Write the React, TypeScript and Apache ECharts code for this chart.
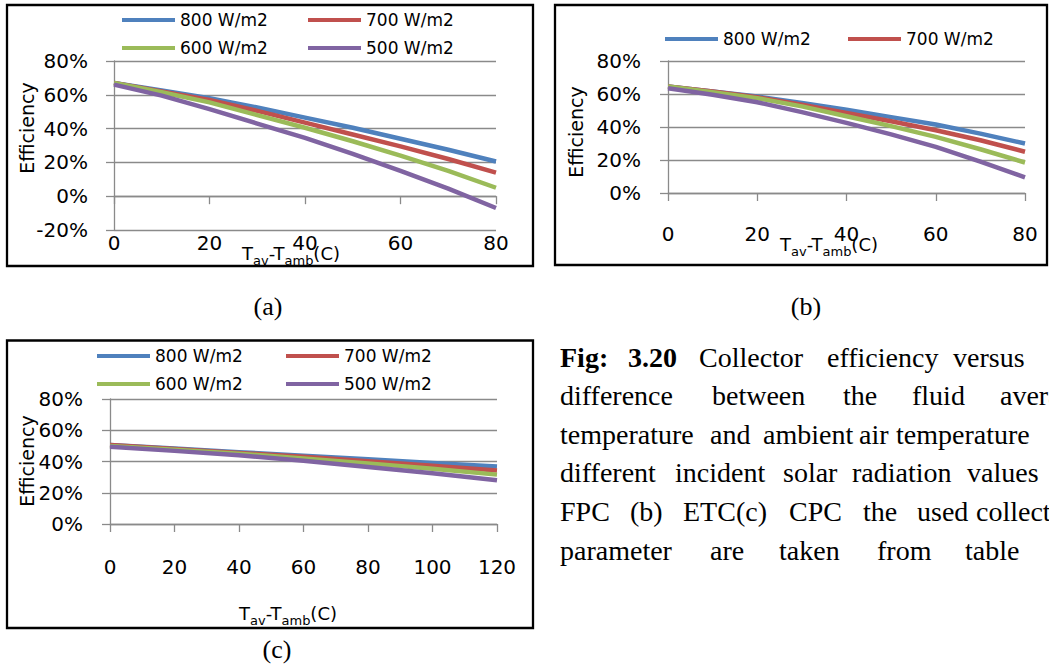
import React, { useEffect, useRef } from "react";
import * as echarts from "echarts";

// ---------- data ----------
const SERIES_NAMES = ["800 W/m2", "700 W/m2", "600 W/m2", "500 W/m2"];
const SERIES_COLORS = ["#4F81BD", "#C0504D", "#9BBB59", "#8064A2"];

// (a) FPC : efficiency (%) vs Tav-Tamb
const fpcDeltaT = [0, 10, 20, 30, 40, 50, 60, 70, 80];
const fpc800 = [67, 62.5, 58, 52.5, 46.5, 40.5, 34, 27.5, 20.5];
const fpc700 = [67, 62, 57, 50.5, 43.5, 36.5, 29.5, 22, 14];
const fpc600 = [67, 61.5, 55.5, 48, 40.5, 32.5, 24, 15, 5];
const fpc500 = [66, 59.5, 51.5, 43, 34.5, 25, 15, 4.5, -7];

// (b) ETC
const etcDeltaT = [0, 10, 20, 30, 40, 50, 60, 70, 80];
const etc800 = [64.5, 61.5, 58.5, 54.5, 50.5, 46, 41.5, 36, 30];
const etc700 = [64.5, 61.5, 58, 53.5, 48.5, 43.5, 38, 32, 25];
const etc600 = [64.5, 61, 57.5, 52.5, 46.5, 40.5, 34, 26.5, 18.5];
const etc500 = [63.5, 59.5, 55, 49, 42.5, 35.5, 28, 19, 9.5];

// (c) CPC
const cpcDeltaT = [0, 20, 40, 60, 80, 100, 120];
const cpc800 = [50.5, 48.3, 46, 43.7, 41.4, 39.1, 36.8];
const cpc700 = [50.5, 48, 45.5, 43, 40.2, 37.3, 34.3];
const cpc600 = [50, 47.5, 45, 42, 38.8, 35.3, 31.6];
const cpc500 = [49.5, 46.8, 44, 40.5, 36.5, 32.5, 28];

// axis ranges (percent / degrees)
const yRangeA = [-20, 80];
const yRangeB = [0, 80];
const yRangeC = [0, 80];
const xMaxA = 80;
const xMaxB = 80;
const xMaxC = 120;
const TICK_STEP = 20;

const Y_TITLE = "Efficiency";
const X_TITLE = "T{s|av}-T{s|amb}(C)";
const PANEL_LABELS = ["(a)", "(b)", "(c)"];

const CAPTION_LINES: Array<Array<[string, number, boolean?]>> = [
  [["Fig:", 560, true], ["3.20", 628, true], ["Collector", 699], ["efficiency", 827], ["versus", 953]],
  [["difference", 560], ["between", 712], ["the", 843], ["fluid", 912], ["average", 1000]],
  [["temperature", 560], ["and", 710], ["ambient", 763], ["air", 859], ["temperature", 896]],
  [["different", 560], ["incident", 675], ["solar", 783], ["radiation", 852], ["values", 967]],
  [["FPC", 560], ["(b)", 630], ["ETC(c)", 683], ["CPC", 789], ["the", 863], ["used", 917], ["collector", 976]],
  [["parameter", 560], ["are", 710], ["taken", 779], ["from", 877], ["table", 965]],
];
const CAPTION_BASELINES = [367, 405.6, 444.2, 482.8, 521.4, 560];

// ---------- styling ----------
const SANS = "DejaVu Sans";
const SERIF = "Liberation Serif";
const GRID_COLOR = "#8a8a8a";

function xAxisDef(gridIndex: number, max: number, margin: number) {
  return {
    type: "value",
    gridIndex,
    min: 0,
    max,
    interval: TICK_STEP,
    axisLine: { show: true, onZero: true, lineStyle: { color: GRID_COLOR, width: 1.3 } },
    axisTick: { show: true, inside: false, length: 8, lineStyle: { color: GRID_COLOR, width: 1.3 } },
    axisLabel: { show: true, margin, color: "#000", fontFamily: SANS, fontSize: 20 },
    splitLine: { show: false },
  };
}

function yAxisDef(gridIndex: number, range: number[], margin: number) {
  return {
    type: "value",
    gridIndex,
    min: range[0],
    max: range[1],
    interval: TICK_STEP,
    axisLine: { show: true, onZero: false, lineStyle: { color: GRID_COLOR, width: 1.3 } },
    axisTick: { show: true, inside: false, length: 8, lineStyle: { color: GRID_COLOR, width: 1.3 } },
    axisLabel: { show: true, margin, color: "#000", fontFamily: SANS, fontSize: 20, formatter: "{value}%" },
    splitLine: { show: true, lineStyle: { color: GRID_COLOR, width: 1.3 } },
  };
}

function lineSeries(name: string, color: string, xs: number[], ys: number[], axisIndex: number) {
  return {
    type: "line",
    name,
    xAxisIndex: axisIndex,
    yAxisIndex: axisIndex,
    data: xs.map((x, i) => [x, ys[i]]),
    showSymbol: false,
    symbol: "none",
    color,
    lineStyle: { color, width: 4.5 },
    z: 2,
  };
}

function legendDef(name: string, left: number, centerY: number) {
  return {
    data: [name],
    left,
    top: centerY - 10,
    padding: 0,
    icon: "rect",
    itemWidth: 53,
    itemHeight: 4,
    selectedMode: false,
    textStyle: { fontFamily: SANS, fontSize: 17, color: "#000", lineHeight: 20 },
  };
}

function boxRect(x: number, y: number, w: number, h: number) {
  return {
    type: "rect",
    shape: { x, y, width: w, height: h },
    style: { fill: "none", stroke: "#000", lineWidth: 2.3 },
    silent: true,
  };
}

function yTitle(x: number, y: number) {
  return {
    type: "text",
    x,
    y,
    rotation: Math.PI / 2,
    style: {
      text: Y_TITLE,
      fontFamily: SANS,
      fontSize: 19,
      fill: "#000",
      align: "center",
      verticalAlign: "middle",
    },
    silent: true,
  };
}

function xTitle(x: number, y: number) {
  return {
    type: "text",
    x,
    y,
    style: {
      text: X_TITLE,
      fontFamily: SANS,
      fontSize: 18,
      fill: "#000",
      align: "center",
      verticalAlign: "middle",
      rich: {
        s: { fontFamily: SANS, fontSize: 13, fill: "#000", padding: [14, 0, 0, 0] },
      },
    },
    silent: true,
  };
}

function serifLabel(text: string, x: number, y: number) {
  return {
    type: "text",
    x,
    y,
    style: {
      text,
      fontFamily: SERIF,
      fontSize: 26,
      fill: "#000",
      align: "center",
      verticalAlign: "middle",
    },
    silent: true,
  };
}

export default function App() {
  const ref = useRef<HTMLDivElement>(null);

  useEffect(() => {
    if (!ref.current) return;
    const chart = echarts.init(ref.current, undefined, { renderer: "svg" });

    const captionElements: any[] = [];
    CAPTION_LINES.forEach((words, li) => {
      words.forEach(([w, x, bold]) => {
        captionElements.push({
          type: "text",
          x,
          y: CAPTION_BASELINES[li] - 10,
          style: {
            text: w,
            fontFamily: SERIF,
            fontSize: 28,
            fontWeight: bold ? "bold" : "normal",
            fill: "#000",
            align: "left",
            verticalAlign: "middle",
          },
          silent: true,
        });
      });
    });

    const option: any = {
      animation: false,
      backgroundColor: "#ffffff",
      grid: [
        { left: 114, top: 61, width: 382, height: 169, containLabel: false },
        { left: 668, top: 61, width: 357, height: 132, containLabel: false },
        { left: 110, top: 399, width: 387, height: 125, containLabel: false },
      ],
      xAxis: [xAxisDef(0, xMaxA, 3), xAxisDef(1, xMaxB, 31), xAxisDef(2, xMaxC, 33)],
      yAxis: [yAxisDef(0, yRangeA, 26), yAxisDef(1, yRangeB, 27), yAxisDef(2, yRangeC, 27)],
      legend: [
        legendDef(SERIES_NAMES[0], 122, 20),
        legendDef(SERIES_NAMES[1], 308, 20),
        legendDef(SERIES_NAMES[2], 122, 48),
        legendDef(SERIES_NAMES[3], 308, 48),
        legendDef(SERIES_NAMES[0], 665, 39),
        legendDef(SERIES_NAMES[1], 848, 39),
        legendDef(SERIES_NAMES[0], 97, 356),
        legendDef(SERIES_NAMES[1], 286, 356),
        legendDef(SERIES_NAMES[2], 97, 384),
        legendDef(SERIES_NAMES[3], 286, 384),
      ],
      series: [
        lineSeries(SERIES_NAMES[0], SERIES_COLORS[0], fpcDeltaT, fpc800, 0),
        lineSeries(SERIES_NAMES[1], SERIES_COLORS[1], fpcDeltaT, fpc700, 0),
        lineSeries(SERIES_NAMES[2], SERIES_COLORS[2], fpcDeltaT, fpc600, 0),
        lineSeries(SERIES_NAMES[3], SERIES_COLORS[3], fpcDeltaT, fpc500, 0),
        lineSeries(SERIES_NAMES[0], SERIES_COLORS[0], etcDeltaT, etc800, 1),
        lineSeries(SERIES_NAMES[1], SERIES_COLORS[1], etcDeltaT, etc700, 1),
        lineSeries(SERIES_NAMES[2], SERIES_COLORS[2], etcDeltaT, etc600, 1),
        lineSeries(SERIES_NAMES[3], SERIES_COLORS[3], etcDeltaT, etc500, 1),
        lineSeries(SERIES_NAMES[0], SERIES_COLORS[0], cpcDeltaT, cpc800, 2),
        lineSeries(SERIES_NAMES[1], SERIES_COLORS[1], cpcDeltaT, cpc700, 2),
        lineSeries(SERIES_NAMES[2], SERIES_COLORS[2], cpcDeltaT, cpc600, 2),
        lineSeries(SERIES_NAMES[3], SERIES_COLORS[3], cpcDeltaT, cpc500, 2),
      ],
      graphic: [
        boxRect(7, 5, 526, 261),
        boxRect(555, 5, 492, 260),
        boxRect(7, 340.5, 526, 287.5),
        yTitle(27, 128),
        yTitle(576, 132),
        yTitle(27, 461),
        xTitle(291, 253),
        xTitle(829, 244),
        xTitle(288, 613),
        serifLabel(PANEL_LABELS[0], 268, 306),
        serifLabel(PANEL_LABELS[1], 806, 306),
        serifLabel(PANEL_LABELS[2], 277, 649),
        ...captionElements,
      ],
    };

    chart.setOption(option);
    return () => {
      chart.dispose();
    };
  }, []);

  return (
    <div
      ref={ref}
      style={{ position: "fixed", left: 0, top: 0, width: 1049, height: 664, background: "#fff" }}
    />
  );
}
